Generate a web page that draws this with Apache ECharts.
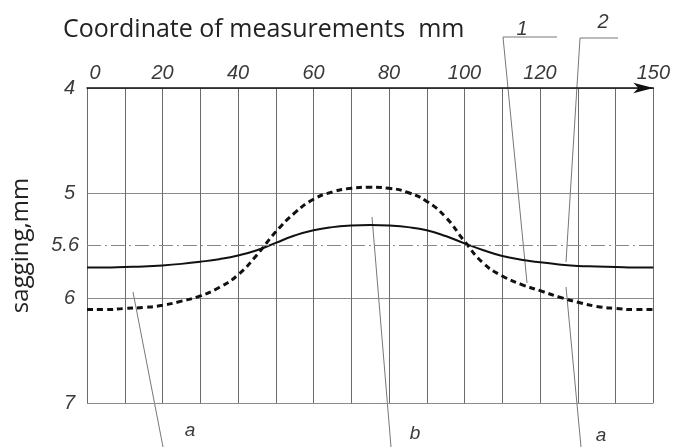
<!DOCTYPE html>
<html>
<head>
<meta charset="utf-8">
<script src="https://cdn.jsdelivr.net/npm/echarts@6/dist/echarts.min.js"></script>
<style>
    html, body { margin: 0; padding: 0; background: #fff; }
    #sagging { width: 673px; height: 447px; }
</style>
</head>
<body>
<div id="sagging"></div>
<script>
// coordinate of measurements, mm (read every 5 mm)
const coords = [0, 5, 10, 15, 20, 25, 30, 35, 40, 45, 50, 55, 60, 65, 70, 75,
    80, 85, 90, 95, 100, 105, 110, 115, 120, 125, 130, 135, 140, 145, 150]
// curve 1 (dashed), sagging in mm
const curve1 = [6.11, 6.11, 6.10, 6.09, 6.07, 6.03, 5.98, 5.90, 5.78, 5.59, 5.37, 5.19, 5.06, 4.99, 4.955, 4.945,
    4.955, 4.995, 5.08, 5.23, 5.46, 5.67, 5.79, 5.87, 5.93, 5.99, 6.04, 6.08, 6.10, 6.11, 6.11]
// curve 2 (solid), sagging in mm
const curve2 = [5.71, 5.71, 5.705, 5.70, 5.69, 5.675, 5.655, 5.63, 5.595, 5.545, 5.475, 5.405, 5.355, 5.325, 5.31, 5.305,
    5.31, 5.325, 5.355, 5.41, 5.48, 5.545, 5.60, 5.635, 5.66, 5.68, 5.695, 5.70, 5.705, 5.71, 5.71]
// x tick labels shown on the top axis
const xTickLabels = [0, 20, 40, 60, 80, 100, 120, 150]
// dash-dot reference line: drawn where the picture has it, labelled as in the picture
const refLineLevel = 5.5
const refLineLabel = '5.6'
// callout texts
const calloutNumbers = ['1', '2']
const regionLetters = ['a', 'b', 'a']

const chart = echarts.init(document.getElementById('sagging'))

const italicFont = 'Liberation Sans'
const gridColor = '#6a6a6a'
const leaderStyle = { stroke: '#777', lineWidth: 1 }

const pair = (xs, ys) => xs.map((x, i) => [x, ys[i]])

const option = {
    animation: false,
    backgroundColor: '#fff',
    title: {
        text: 'Coordinate of measurements  mm',
        left: 58,
        top: 12,
        textStyle: {
            fontFamily: 'Open Sans',
            fontWeight: 'normal',
            fontSize: 25,
            color: '#222',
        },
    },
    grid: {
        left: 87,
        right: 19,
        top: 88,
        bottom: 44,
    },
    xAxis: {
        type: 'value',
        position: 'top',
        min: 0,
        max: 150,
        interval: 10,
        axisLine: {
            show: true,
            symbol: ['none', 'arrow'],
            symbolSize: [8, 20],
            lineStyle: { color: '#111', width: 1.5 },
        },
        axisTick: { show: false },
        axisLabel: {
            margin: 5,
            fontFamily: italicFont,
            fontStyle: 'italic',
            fontSize: 20,
            color: '#3a3a3a',
            formatter: (v) => {
                if (!xTickLabels.includes(v)) return ''
                return v === 0 ? '{z|0}' : String(v)
            },
            rich: {
                z: {
                    fontFamily: italicFont,
                    fontStyle: 'italic',
                    fontSize: 20,
                    color: '#3a3a3a',
                    padding: [0, 0, 0, 16],
                },
            },
        },
        splitLine: {
            show: true,
            lineStyle: { color: gridColor, width: 1 },
        },
    },
    yAxis: {
        type: 'value',
        inverse: true,
        min: 4,
        max: 7,
        interval: 1,
        name: 'sagging,mm',
        nameLocation: 'middle',
        nameRotate: 90,
        nameGap: 54,
        nameTextStyle: {
            fontFamily: 'Open Sans',
            fontSize: 24,
            color: '#222',
        },
        axisLine: { show: false },
        axisTick: { show: false },
        axisLabel: {
            margin: 12,
            fontFamily: italicFont,
            fontStyle: 'italic',
            fontSize: 20,
            color: '#3a3a3a',
        },
        splitLine: {
            show: true,
            lineStyle: { color: '#8a8a8a', width: 1 },
        },
    },
    series: [
        {
            name: '1',
            type: 'line',
            data: pair(coords, curve1),
            smooth: true,
            showSymbol: false,
            lineStyle: { color: '#111', width: 3, type: [6, 4] },
            markLine: {
                silent: true,
                symbol: 'none',
                lineStyle: { color: '#888', width: 1, type: [14, 4, 2, 4] },
                label: {
                    position: 'start',
                    distance: 8,
                    formatter: refLineLabel,
                    fontFamily: italicFont,
                    fontStyle: 'italic',
                    fontSize: 20,
                    color: '#3a3a3a',
                },
                data: [{ yAxis: refLineLevel }],
            },
        },
        {
            name: '2',
            type: 'line',
            data: pair(coords, curve2),
            smooth: true,
            showSymbol: false,
            lineStyle: { color: '#111', width: 2 },
        },
    ],
    graphic: [
        // callout 1 -> dashed curve
        { type: 'polyline', shape: { points: [[557, 37], [503, 37], [527, 283]] }, style: leaderStyle },
        { type: 'text', x: 522, y: 29, style: { text: calloutNumbers[0], font: 'italic 20px ' + italicFont, fill: '#3a3a3a', align: 'center', verticalAlign: 'middle' } },
        // callout 2 -> solid curve
        { type: 'polyline', shape: { points: [[618, 38], [580, 38], [566, 262]] }, style: leaderStyle },
        { type: 'text', x: 603, y: 22, style: { text: calloutNumbers[1], font: 'italic 20px ' + italicFont, fill: '#3a3a3a', align: 'center', verticalAlign: 'middle' } },
        // region leaders at the bottom
        { type: 'line', shape: { x1: 133, y1: 292, x2: 163, y2: 447 }, style: leaderStyle },
        { type: 'line', shape: { x1: 372, y1: 217, x2: 391, y2: 447 }, style: leaderStyle },
        { type: 'line', shape: { x1: 566, y1: 287, x2: 581, y2: 447 }, style: leaderStyle },
        { type: 'text', x: 190, y: 431, style: { text: regionLetters[0], font: 'italic 19px ' + italicFont, fill: '#3a3a3a', align: 'center', verticalAlign: 'middle' } },
        { type: 'text', x: 415, y: 434, style: { text: regionLetters[1], font: 'italic 19px ' + italicFont, fill: '#3a3a3a', align: 'center', verticalAlign: 'middle' } },
        { type: 'text', x: 601, y: 436, style: { text: regionLetters[2], font: 'italic 19px ' + italicFont, fill: '#3a3a3a', align: 'center', verticalAlign: 'middle' } },
    ],
}

chart.setOption(option)
</script>
</body>
</html>
